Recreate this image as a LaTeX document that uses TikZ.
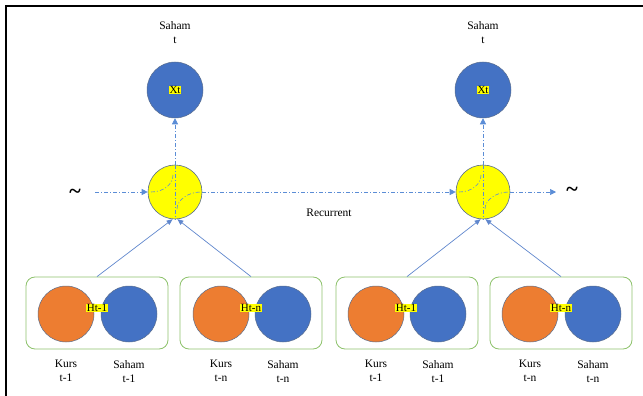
\documentclass[tikz,border=0pt]{standalone}
\usepackage{fontspec}
\setmainfont{Liberation Serif}
\usetikzlibrary{arrows.meta,positioning,calc}
\definecolor{Azure}{HTML}{4472C4}
\definecolor{Amber}{HTML}{ED7D31}
\definecolor{Lemon}{HTML}{FFFF00}
\definecolor{Leaf}{HTML}{8DC26B}
\definecolor{Rim}{HTML}{5A6E8E}
\definecolor{Dash}{HTML}{5B8DD6}

\begin{document}
\begin{tikzpicture}[
  x=1pt, y=-1pt,
  ball/.style={circle, draw=Rim, line width=0.5pt, minimum size=56pt, inner sep=0pt},
  blueball/.style={ball, fill=Azure},
  orangeball/.style={ball, fill=Amber},
  cell/.style={circle, draw=Rim, fill=Lemon, line width=0.6pt, minimum size=54pt, inner sep=0pt},
  group/.style={draw=Leaf, rounded corners=9pt, line width=0.8pt,
                minimum width=142pt, minimum height=72pt},
  tag/.style={fill=Lemon, inner sep=0.5pt, font=\fontsize{11}{12}\selectfont},
  sublabel/.style={align=center, inner sep=0pt, font=\fontsize{11.5}{14}\selectfont},
  flow/.style={Dash, line width=0.7pt, dash pattern=on 4pt off 2pt on 1pt off 2pt,
               -{Triangle[length=6pt,width=6pt]}},
  curl/.style={Dash, line width=0.6pt, dash pattern=on 4pt off 2pt on 1pt off 2pt},
  feed/.style={Azure!85, line width=0.7pt, -{Triangle[length=6pt,width=5pt]}}
]
  \useasboundingbox (0,0) rectangle (643,396);
  \draw[line width=2pt] (6,396) -- (6,6) -- (643,6);

  % input groups: kurs + saham at each lag
  \node[group] (grp1) at (97,313)  {};
  \node[group] (grp2) at (251,313) {};
  \node[group] (grp3) at (407,313) {};
  \node[group] (grp4) at (561,313) {};

  \node[orangeball] (kurs1) at (66,314)  {};
  \node[blueball]   (sah1)  at (129,314) {};
  \node[orangeball] (kurs2) at (221,314) {};
  \node[blueball]   (sah2)  at (283,314) {};
  \node[orangeball] (kurs3) at (376,314) {};
  \node[blueball]   (sah3)  at (438,314) {};
  \node[orangeball] (kurs4) at (530,314) {};
  \node[blueball]   (sah4)  at (593,314) {};

  \node[tag] (ht1) at (97,308)  {Ht-1};
  \node[tag] (ht2) at (251,308) {Ht-n};
  \node[tag] (ht3) at (406,308) {Ht-1};
  \node[tag] (ht4) at (561,308) {Ht-n};

  \node[sublabel, below=18pt of kurs1] {Kurs\\t-1};
  \node[sublabel, below=18pt of sah1]  {Saham\\t-1};
  \node[sublabel, below=18pt of kurs2] {Kurs\\t-n};
  \node[sublabel, below=18pt of sah2]  {Saham\\t-n};
  \node[sublabel, below=18pt of kurs3] {Kurs\\t-1};
  \node[sublabel, below=18pt of sah3]  {Saham\\t-1};
  \node[sublabel, below=18pt of kurs4] {Kurs\\t-n};
  \node[sublabel, below=18pt of sah4]  {Saham\\t-n};

  % hidden cells and outputs
  \node[cell] (hid1) at (175,192) {};
  \node[cell] (hid2) at (483,192) {};
  \node[blueball] (out1) at (175,90) {};
  \node[blueball] (out2) at (483,90) {};
  \node[tag] at (out1) {Xt};
  \node[tag] at (out2) {Xt};
  \node[sublabel, above=18pt of out1] {Saham\\t};
  \node[sublabel, above=18pt of out2] {Saham\\t};

  \node[font=\fontsize{22}{22}\selectfont\bfseries] (lead)  at (75,194)  {\textasciitilde};
  \node[font=\fontsize{22}{22}\selectfont\bfseries] (trail) at (572,192) {\textasciitilde};
  \node[sublabel] (rec) at (329,213) {Recurrent};
  \coordinate (in)  at (95,192);
  \coordinate (out) at (556,192);

  % marks inside the cells
  \foreach \h in {hid1,hid2}{
    \draw[curl] (\h.north) -- (\h.south);
    \draw[curl] ($(\h)+(-24,0)$) .. controls +(13,0) and +(0,9) .. ($(\h)+(-2,-17)$);
    \draw[curl] ($(\h)+(2,17)$) .. controls +(0,-9) and +(-13,0) .. ($(\h)+(26,0)$);
  }

  % recurrent path
  \draw[flow] (in) -- (hid1.west);
  \draw[flow] (hid1.east) -- (hid2.west);
  \draw[flow] (hid2.east) -- (out);
  \draw[flow] (hid1.north) -- (out1.south);
  \draw[flow] (hid2.north) -- (out2.south);

  % inputs feeding the cells
  \draw[feed] (grp1.north) -- (hid1.265);
  \draw[feed] (grp2.north) -- (hid1.275);
  \draw[feed] (grp3.north) -- (hid2.265);
  \draw[feed] (grp4.north) -- (hid2.275);
\end{tikzpicture}
\end{document}
